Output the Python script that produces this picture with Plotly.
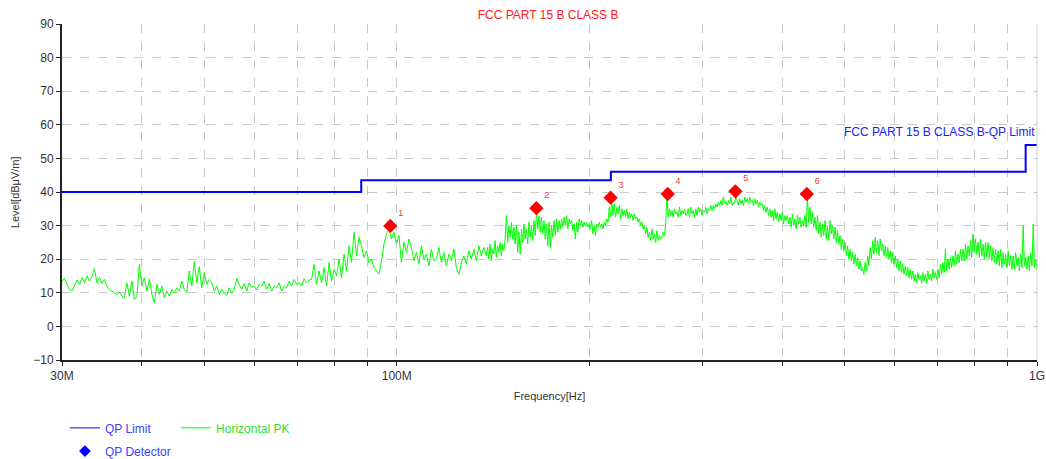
import numpy as np
import plotly.graph_objects as go

# ---------------- data ----------------
# Horizontal PK sweep readings (dBuV/m). Low band: 30-138 MHz, high band: 138-1000 MHz
band_edges_mhz = [30, 138, 1000]
pk_level_low = [
    13.5, 14.3, 12.5, 11.0, 10.5, 12.0, 13.8, 12.5, 14.5, 13.0,
    15.0, 13.5, 14.8, 17.2, 13.0, 14.5, 12.8, 14.0, 12.0, 11.0,
    10.5, 10.0, 9.5, 10.2, 9.0, 8.5, 13.0, 9.0, 13.5, 8.0,
    9.0, 18.5, 12.0, 14.5, 10.5, 14.0, 9.5, 7.0, 12.5, 9.5,
    12.0, 8.5, 10.5, 9.0, 11.0, 10.0, 11.5, 10.5, 13.5, 11.0,
    10.0, 16.5, 12.0, 19.3, 13.0, 17.8, 11.5, 16.0, 12.5, 14.0,
    13.0, 10.5, 12.0, 9.5, 11.0, 10.0, 9.2, 11.5, 9.8, 11.0,
    14.3, 12.5, 11.0, 12.8, 10.5, 13.0, 11.5, 12.0, 10.8, 12.5,
    12.0, 13.5, 11.0, 12.8, 10.5, 12.0, 11.5, 13.0, 10.5, 12.0,
    11.5, 13.5, 12.0, 14.0, 12.5, 13.0, 12.0, 14.2, 13.0, 13.8,
    14.0, 18.5, 12.5, 16.5, 13.0, 17.5, 12.0, 19.0, 13.5, 17.0,
    15.0, 20.0, 14.5, 21.5, 16.5, 24.0, 19.0, 28.0, 21.0, 26.5,
    24.0, 20.5, 22.5, 19.0, 20.0, 17.5, 16.5, 15.5, 19.5, 24.5,
    27.5, 29.0, 26.0, 28.0, 24.5, 27.0, 19.0, 25.0, 22.0, 26.0,
    23.5, 19.5, 22.0, 18.5, 24.0, 20.0, 21.5, 18.0, 23.0, 19.5,
    20.0, 23.5, 19.0, 22.0, 18.0, 21.5, 19.5, 23.0, 17.5, 15.5,
    19.0, 21.0, 18.5, 22.5, 20.0, 23.0, 19.5, 24.0, 21.0, 23.5,
]
pk_level_high = [
    21.0, 23.5, 20.0, 24.5, 19.5, 23.0, 21.5, 25.5, 20.5, 24.0, 22.0, 25.0, 21.0, 24.5, 22.5, 26.0, 33.0, 25.0, 30.0, 26.5,
    31.0, 26.0, 29.5, 24.5, 30.0, 22.0, 28.0, 21.5, 29.0, 25.0, 30.5, 26.0, 29.0, 24.5, 31.0, 26.5, 30.0, 25.5, 31.5, 27.0,
    34.5, 29.0, 33.0, 28.0, 32.5, 27.5, 31.5, 26.0, 30.5, 24.0, 31.0, 23.5, 30.0, 26.5, 31.5, 27.0, 32.0, 28.0, 31.5, 29.0,
    32.0, 29.5, 32.5, 30.0, 33.0, 29.0, 32.0, 30.5, 31.5, 28.5, 30.5, 26.0, 31.0, 28.0, 32.0, 30.0, 31.5, 29.5, 31.0, 30.0,
    31.0, 29.5, 30.5, 29.0, 31.5, 27.5, 30.0, 27.0, 30.5, 29.5, 31.0, 29.5, 30.5, 29.0, 31.0, 30.0, 32.0, 31.0, 35.5, 32.5,
    37.5, 33.0, 36.5, 32.5, 35.5, 33.5, 36.0, 32.0, 35.0, 33.0, 34.5, 32.5, 35.0, 32.0, 34.0, 32.5, 33.5, 31.5, 33.5, 32.0,
    32.5, 31.0, 32.0, 30.0, 31.0, 29.0, 30.0, 27.5, 29.5, 26.5, 28.0, 25.5, 29.0, 26.0, 27.5, 25.0, 28.5, 25.5, 27.0, 26.0,
    26.5, 28.0, 27.0, 30.5, 39.0, 32.5, 35.0, 33.0, 34.5, 32.5, 35.0, 33.5, 34.0, 32.5, 35.5, 33.0, 34.5, 33.5, 35.0, 33.0,
    33.5, 35.0, 32.5, 35.5, 33.5, 34.5, 32.5, 35.0, 33.0, 35.5, 34.0, 35.0, 33.0, 34.5, 34.0, 35.5, 33.5, 35.0, 34.5, 36.0,
    34.5, 36.0, 35.0, 36.5, 35.5, 37.0, 36.0, 37.5, 36.0, 38.5, 36.5, 37.0, 36.0, 37.5, 36.5, 38.5, 36.0, 37.0, 36.5, 39.0,
    37.5, 36.0, 38.0, 36.5, 37.5, 36.0, 38.5, 37.0, 38.0, 36.5, 38.5, 37.0, 37.5, 36.0, 38.0, 36.5, 37.5, 35.5, 37.0, 36.0,
    36.5, 34.5, 36.0, 34.0, 35.5, 33.0, 35.0, 32.5, 34.5, 31.5, 35.0, 32.0, 34.0, 31.0, 33.5, 31.5, 34.0, 30.5, 33.0, 31.5,
    33.0, 30.5, 32.5, 29.5, 33.5, 30.0, 32.0, 29.0, 33.0, 30.5, 32.5, 29.5, 31.5, 30.0, 33.0, 29.5, 38.5, 31.0, 35.5, 30.5,
    34.0, 29.5, 32.5, 28.5, 33.0, 27.5, 31.0, 26.5, 30.5, 27.0, 31.5, 26.0, 30.0, 25.5, 31.5, 27.5, 30.0, 26.0, 29.5, 25.0,
    28.5, 24.5, 27.0, 23.0, 26.0, 22.5, 25.0, 21.0, 24.0, 20.0, 23.0, 19.5, 22.0, 18.5, 21.5, 18.0, 20.5, 17.0, 19.5, 16.5,
    17.5, 15.5, 19.0, 16.5, 21.0, 18.0, 23.5, 20.0, 25.5, 21.5, 26.5, 22.0, 25.5, 21.0, 26.0, 22.5, 24.5, 21.0, 24.0, 20.5,
    23.5, 20.0, 22.5, 19.0, 22.0, 18.5, 21.0, 17.5, 20.0, 16.5, 19.5, 16.0, 18.5, 15.5, 18.0, 15.0, 17.5, 14.5, 17.0, 14.0,
    16.5, 13.5, 15.5, 13.0, 16.0, 14.0, 15.0, 12.8, 16.0, 13.5, 15.5, 13.0, 16.5, 14.0, 15.5, 13.5, 17.0, 14.5, 16.0, 14.0,
    17.0, 14.5, 18.5, 15.5, 19.0, 16.0, 23.0, 16.5, 20.0, 17.0, 20.5, 17.5, 21.0, 18.0, 22.5, 18.5, 21.5, 19.0, 23.0, 19.5,
    23.0, 19.5, 24.5, 20.0, 24.0, 21.0, 25.5, 20.5, 27.5, 22.0, 26.0, 21.5, 25.0, 20.5, 26.0, 21.0, 24.5, 20.0, 25.0, 20.5,
    25.0, 20.0, 24.0, 19.5, 23.5, 19.0, 23.0, 18.5, 22.5, 18.0, 23.0, 17.5, 22.0, 18.5, 21.5, 17.5, 22.5, 18.0, 21.0, 17.0,
    21.0, 17.0, 22.0, 18.0, 20.5, 16.5, 21.5, 17.5, 30.0, 18.0, 20.5, 17.0, 21.0, 16.5, 22.0, 18.0, 30.5, 17.5, 20.0, 17.0,
]
pk_freq_mhz = np.concatenate([
    np.geomspace(band_edges_mhz[0], band_edges_mhz[1], len(pk_level_low), endpoint=False),
    np.geomspace(band_edges_mhz[1], band_edges_mhz[2], len(pk_level_high)),
])
pk_level = pk_level_low + pk_level_high

limit_freq_mhz = [30, 88, 216, 960, 1000]
limit_level = [40, 43.5, 46, 54, 54]

qp_freq_mhz = [97.7, 165.2, 215.8, 265.0, 338.0, 437.0]
qp_level = [29.9, 35.2, 38.3, 39.4, 40.2, 39.4]
qp_labels = ["1", "2", "3", "4", "5", "6"]

grid_freq_mhz = [30, 40, 50, 60, 70, 80, 90, 100, 200, 300, 400, 500,
                 600, 700, 800, 900, 1000]
grid_text = ["30M", "", "", "", "", "", "", "100M", "", "", "", "", "", "", "", "", "1G"]

title_text = "FCC PART 15 B CLASS B"
limit_name = "FCC PART 15 B CLASS B-QP Limit"

# ---------------- figure ----------------
FONT = "Liberation Sans, Arial, sans-serif"
fig = go.Figure()

fig.add_trace(go.Scatter(
    x=pk_freq_mhz, y=pk_level, mode="lines",
    line=dict(color="#00ff00", width=1), showlegend=False, hoverinfo="skip"))

fig.add_trace(go.Scatter(
    x=limit_freq_mhz, y=limit_level, mode="lines", line_shape="hv",
    line=dict(color="#0000ff", width=2), showlegend=False))

fig.add_trace(go.Scatter(
    x=qp_freq_mhz, y=qp_level, mode="markers+text",
    marker=dict(symbol="diamond", color="#ff0000", size=11),
    text=qp_labels, textposition="top right",
    textfont=dict(color="#ff3030", size=9, family=FONT),
    showlegend=False))

# legend entries
fig.add_trace(go.Scatter(x=[None], y=[None], mode="lines", name="QP Limit",
                         line=dict(color="#0000ff", width=1), legend="legend"))
fig.add_trace(go.Scatter(x=[None], y=[None], mode="lines", name="Horizontal PK",
                         line=dict(color="#00ff00", width=1), legend="legend2"))
fig.add_trace(go.Scatter(x=[None], y=[None], mode="markers", name="QP Detector",
                         marker=dict(symbol="diamond", color="#0000ff", size=9),
                         legend="legend3"))

fig.add_annotation(x=np.log10(1000), y=54, xref="x", yref="y",
                   text=limit_name, showarrow=False, xanchor="right", yanchor="bottom",
                   yshift=4, font=dict(color="#2020ff", size=12, family=FONT))

fig.add_annotation(x=-0.048, y=0.5, xref="paper", yref="paper", textangle=-90,
                   text="Level[dBμV/m]", showarrow=False, xanchor="center", yanchor="middle",
                   font=dict(color="#333333", size=11, family=FONT))

fig.update_layout(
    width=1046, height=459,
    margin=dict(l=62, r=9, t=24, b=99, autoexpand=False),
    paper_bgcolor="white", plot_bgcolor="white",
    font=dict(family=FONT, size=12, color="#333333"),
    title=dict(text=title_text, x=0.524, xanchor="center", xref="container",
               y=0.967, yanchor="middle", yref="container",
               font=dict(color="#ff2020", size=12, family=FONT)),
    xaxis=dict(
        type="log", range=[np.log10(30), np.log10(1000)],
        tickvals=grid_freq_mhz, ticktext=grid_text, automargin=False,
        showgrid=True, gridcolor="#c8c8c8", griddash="dash", gridwidth=1,
        showline=True, linecolor="#222222", linewidth=2,
        ticks="outside", ticklen=4, tickcolor="#222222",
        tickfont=dict(size=12, color="#333333"),
        title=dict(text="Frequency[Hz]", font=dict(size=11, color="#333333"), standoff=10),
        zeroline=False, mirror=False),
    yaxis=dict(
        range=[-10, 90], dtick=10, tick0=-10, automargin=False,
        showgrid=True, gridcolor="#c8c8c8", griddash="dash", gridwidth=1,
        showline=True, linecolor="#222222", linewidth=2,
        ticks="outside", ticklen=4, tickcolor="#222222",
        tickfont=dict(size=12, color="#333333"),
        zeroline=False),
    legend=dict(x=0.003, y=-0.202, xanchor="left", yanchor="middle", orientation="h",
                font=dict(color="#4040ff", size=12), bgcolor="rgba(0,0,0,0)"),
    legend2=dict(x=0.117, y=-0.202, xanchor="left", yanchor="middle", orientation="h",
                 font=dict(color="#30e030", size=12), bgcolor="rgba(0,0,0,0)"),
    legend3=dict(x=0.003, y=-0.271, xanchor="left", yanchor="middle", orientation="h",
                 font=dict(color="#4040ff", size=12), bgcolor="rgba(0,0,0,0)"),
)

# right border line at 1G
fig.add_shape(type="line", xref="paper", yref="paper", x0=1, x1=1, y0=0, y1=1,
              line=dict(color="#d0d0d0", width=1))

fig.write_html(
    "out.html",
    config={"displayModeBar": False},
    post_script="document.body.style.margin='0';document.body.style.overflow='hidden';",
)
